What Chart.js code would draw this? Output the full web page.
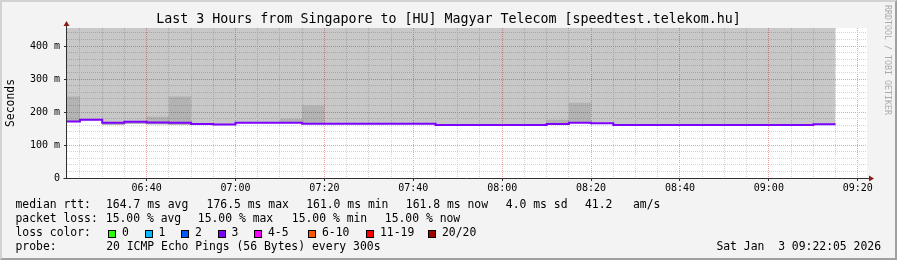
<!DOCTYPE html>
<html>
<head>
<meta charset="utf-8">
<script src="https://cdn.jsdelivr.net/npm/chart.js@4.4.1/dist/chart.umd.min.js"></script>
<style>
  html, body { margin: 0; padding: 0; }
  body {
    width: 897px; height: 260px; position: relative; overflow: hidden;
    background: #f3f3f3; color: #000;
    font-family: "DejaVu Sans Mono", monospace;
  }
  #frame {
    position: absolute; left: 0; top: 0; width: 897px; height: 260px; box-sizing: border-box;
    border-top: 2px solid #d2d2d2; border-left: 2px solid #d2d2d2;
    border-right: 2px solid #a0a0a0; border-bottom: 2px solid #a0a0a0;
  }
  #chart { position: absolute; left: 0; top: 0; }
  #title {
    position: absolute; left: 0; top: 11px; width: 897px; text-align: center;
    font-size: 13.3px; line-height: 16px; white-space: pre;
  }
  .t { position: absolute; font-size: 11.4px; line-height: 12px; white-space: pre; }
  .box { position: absolute; width: 6px; height: 6px; border: 1px solid #000; }
  #mark {
    position: absolute; left: 883px; top: 5px; font-size: 8.3px; line-height: 10px;
    color: #ababab; writing-mode: vertical-rl; white-space: pre;
  }
</style>
</head>
<body>
<div id="frame"></div>
<canvas id="chart" width="897" height="260"></canvas>
<div id="title"></div>
<div id="legend"></div>
<div id="mark">RRDTOOL / TOBI OETIKER</div>
<script>
// 5 minute bins, stamped with the end of each bin
const binEnds = [
  "06:25", "06:30", "06:35", "06:40", "06:45", "06:50", "06:55",
  "07:00", "07:05", "07:10", "07:15", "07:20", "07:25", "07:30", "07:35", "07:40", "07:45", "07:50", "07:55",
  "08:00", "08:05", "08:10", "08:15", "08:20", "08:25", "08:30", "08:35", "08:40", "08:45", "08:50", "08:55",
  "09:00", "09:05", "09:10", "09:15"
];
const medianRtt = [
  171.6, 176.5, 167.8, 170.7, 168.7, 167.8, 163.9,
  162.5, 167.8, 167.8, 167.8, 164.9, 164.9, 164.9, 164.9, 164.9, 164.9, 161.0, 161.0,
  161.0, 161.0, 161.0, 163.9, 167.8, 165.8, 161.0, 161.0, 161.0, 161.0, 161.0, 161.0,
  161.0, 161.0, 161.0, 163.0
];
// darker smoke band (spread of the pings)
const smokeHigh = [
  247, 176.5, 167.8, 170.7, 186, 247, 167,
  162.5, 167.8, 167.8, 180, 220, 164.9, 164.9, 164.9, 164.9, 164.9, 161.0, 161.0,
  161.0, 161.0, 161.0, 177, 228, 165.8, 161.0, 161.0, 161.0, 161.0, 161.0, 161.0,
  161.0, 161.0, 161.0, 163.0
];
const smokeLow = [
  170.6, 175.5, 161.0, 163.5, 162.0, 161.0, 162.9,
  161.5, 166.8, 166.8, 166.8, 163.9, 163.9, 163.9, 163.9, 163.9, 163.9, 160.0, 160.0,
  160.0, 160.0, 160.0, 162.9, 166.8, 164.8, 160.0, 160.0, 160.0, 160.0, 160.0, 160.0,
  160.0, 160.0, 160.0, 162.0
];

const timeTicks = ["06:40", "07:00", "07:20", "07:40", "08:00", "08:20", "08:40", "09:00", "09:20"];
const yTickValues = [0, 100, 200, 300, 400];
const yTickLabels = ["0", "100 m", "200 m", "300 m", "400 m"];
const windowStart = "06:22:05";
const windowEnd = "09:22:05";
const Y_MAX = 455;

const titleText = "Last 3 Hours from Singapore to [HU] Magyar Telecom [speedtest.telekom.hu]";
const rttStats = ["164.7 ms avg", "176.5 ms max", "161.0 ms min", "161.8 ms now", "4.0 ms sd", "41.2   am/s"];
const lossStats = ["15.00 % avg", "15.00 % max", "15.00 % min", "15.00 % now"];
const lossBands = ["0", "1", "2", "3", "4-5", "6-10", "11-19", "20/20"];
const lossColors = ["#26ff00", "#00b8ff", "#0059ff", "#7e00ff", "#ff00ff", "#ff5500", "#ff0000", "#a00000"];
const probeText = "20 ICMP Echo Pings (56 Bytes) every 300s";
const stampText = "Sat Jan  3 09:22:05 2026";

const FONT = "'DejaVu Sans Mono', monospace";
const GRID_MINOR = "rgb(212,212,212)";
const GRID_MAJOR = "rgb(242,158,158)";

function toMin(s) {
  const p = s.split(":").map(Number);
  return p[0] * 60 + p[1] + (p[2] || 0) / 60;
}

function fmtMin(v) {
  const h = Math.floor(v / 60);
  const m = Math.round(v % 60);
  return String(h).padStart(2, "0") + ":" + String(m).padStart(2, "0");
}

// each value is drawn over its bin; first point opens the first bin
function steps(values) {
  const pts = [{ x: toMin(binEnds[0]) - 5, y: values[0] }];
  binEnds.forEach((t, i) => pts.push({ x: toMin(t), y: values[i] }));
  return pts;
}

const isMajorX = (v) => timeTicks.includes(fmtMin(v));
const isMajorY = (v) => yTickValues.includes(v);

const plotDecor = {
  id: "plotDecor",
  beforeDraw(chart) {
    const { ctx, chartArea: a } = chart;
    ctx.save();
    ctx.fillStyle = "#ffffff";
    ctx.fillRect(a.left, a.top, a.right - a.left, a.bottom - a.top);
    ctx.restore();
  },
  afterDraw(chart) {
    const { ctx, chartArea: a } = chart;
    const ax = Math.round(a.left) - 0.5;
    const ay = Math.round(a.bottom) + 0.5;
    ctx.save();
    ctx.strokeStyle = "#303030";
    ctx.lineWidth = 1;
    ctx.beginPath();
    ctx.moveTo(ax, ay);
    ctx.lineTo(ax, a.top - 3);
    ctx.moveTo(ax - 3, ay);
    ctx.lineTo(a.right + 2, ay);
    ctx.stroke();
    ctx.fillStyle = "#8b1c1c";
    ctx.beginPath();
    ctx.moveTo(ax - 3, a.top - 2);
    ctx.lineTo(ax + 3, a.top - 2);
    ctx.lineTo(ax, a.top - 7);
    ctx.closePath();
    ctx.fill();
    ctx.beginPath();
    ctx.moveTo(a.right + 2, ay - 3);
    ctx.lineTo(a.right + 2, ay + 3);
    ctx.lineTo(a.right + 7, ay);
    ctx.closePath();
    ctx.fill();
    ctx.restore();
  }
};

const gridOpts = (isMajor) => ({
  color: (c) => (c.tick && isMajor(c.tick.value) ? GRID_MAJOR : GRID_MINOR),
  tickColor: (c) => (c.tick && isMajor(c.tick.value) ? "#303030" : "rgba(0,0,0,0)"),
  lineWidth: 1,
  tickLength: 3,
  drawTicks: true
});

new Chart(document.getElementById("chart"), {
  type: "line",
  data: {
    datasets: [
      {
        label: "median rtt",
        data: steps(medianRtt),
        stepped: "after",
        borderColor: "#7e00ff",
        borderWidth: 2,
        pointRadius: 0,
        fill: false,
        order: 0
      },
      {
        label: "smoke high",
        data: steps(smokeHigh),
        stepped: "after",
        borderColor: "rgba(0,0,0,0)",
        borderWidth: 0,
        pointRadius: 0,
        backgroundColor: "rgba(0,0,0,0.1)",
        fill: 2,
        order: 1
      },
      {
        label: "smoke low",
        data: steps(smokeLow),
        stepped: "after",
        borderColor: "rgba(0,0,0,0)",
        borderWidth: 0,
        pointRadius: 0,
        backgroundColor: "rgba(0,0,0,0.216)",
        fill: { value: Y_MAX },
        order: 2
      }
    ]
  },
  options: {
    responsive: false,
    animation: false,
    events: [],
    layout: { padding: { left: 0, right: 30, top: 28, bottom: 60 } },
    plugins: {
      legend: { display: false },
      tooltip: { enabled: false },
      title: { display: false }
    },
    scales: {
      x: {
        type: "linear",
        min: toMin(windowStart),
        max: toMin(windowEnd),
        afterBuildTicks: (scale) => {
          const ticks = [];
          for (let v = Math.ceil(scale.min / 5) * 5; v <= scale.max; v += 5) ticks.push({ value: v });
          scale.ticks = ticks;
        },
        afterFit: (scale) => { scale.height = 22; },
        grid: gridOpts(isMajorX),
        border: { display: false, dash: [1, 1] },
        ticks: {
          autoSkip: false,
          maxRotation: 0,
          padding: 1,
          color: "#000",
          font: { family: FONT, size: 10 },
          callback: (v) => (isMajorX(v) ? fmtMin(v) : "")
        }
      },
      y: {
        min: 0,
        max: Y_MAX,
        afterBuildTicks: (scale) => {
          const ticks = [];
          for (let v = 0; v <= scale.max; v += 20) ticks.push({ value: v });
          scale.ticks = ticks;
        },
        afterFit: (scale) => { scale.width = 67; },
        grid: gridOpts(isMajorY),
        border: { display: false, dash: [1, 1] },
        title: {
          display: true,
          text: "Seconds",
          color: "#000",
          font: { family: FONT, size: 11.4, weight: "normal" },
          padding: { top: 4, bottom: 0 }
        },
        ticks: {
          autoSkip: false,
          padding: 4,
          color: "#000",
          font: { family: FONT, size: 10 },
          callback: (v) => (isMajorY(v) ? yTickLabels[yTickValues.indexOf(v)] : "")
        }
      }
    }
  },
  plugins: [plotDecor]
});

document.getElementById("title").textContent = titleText;

// text legend under the graph
const legendEl = document.getElementById("legend");

function addText(text, left, top) {
  const el = document.createElement("div");
  el.className = "t";
  el.textContent = text;
  el.style.left = left + "px";
  el.style.top = top + "px";
  legendEl.appendChild(el);
  return el;
}

const rowTops = [198, 212, 225.5, 239.5];
const rttLeft = [106, 206.6, 306.2, 405.8, 505.8, 585];
const lossLeft = [105.8, 197.8, 291.8, 384.8];
const boxLeft = [108, 144.5, 181, 217.5, 254, 308, 366, 428];

addText("median rtt:", 15.5, rowTops[0]);
rttStats.forEach((s, i) => addText(s, rttLeft[i], rowTops[0]));

addText("packet loss:", 15.5, rowTops[1]);
lossStats.forEach((s, i) => addText(s, lossLeft[i], rowTops[1]));

addText("loss color:", 15.5, rowTops[2]);
lossBands.forEach((band, i) => {
  const box = document.createElement("div");
  box.className = "box";
  box.style.left = boxLeft[i] + "px";
  box.style.top = "230px";
  box.style.background = lossColors[i];
  legendEl.appendChild(box);
  addText(band, boxLeft[i] + 14, rowTops[2]);
});

addText("probe:", 15.5, rowTops[3]);
addText(probeText, 106.2, rowTops[3]);
const stamp = addText(stampText, 0, rowTops[3]);
stamp.style.left = "";
stamp.style.right = (897 - 881) + "px";
</script>
</body>
</html>
